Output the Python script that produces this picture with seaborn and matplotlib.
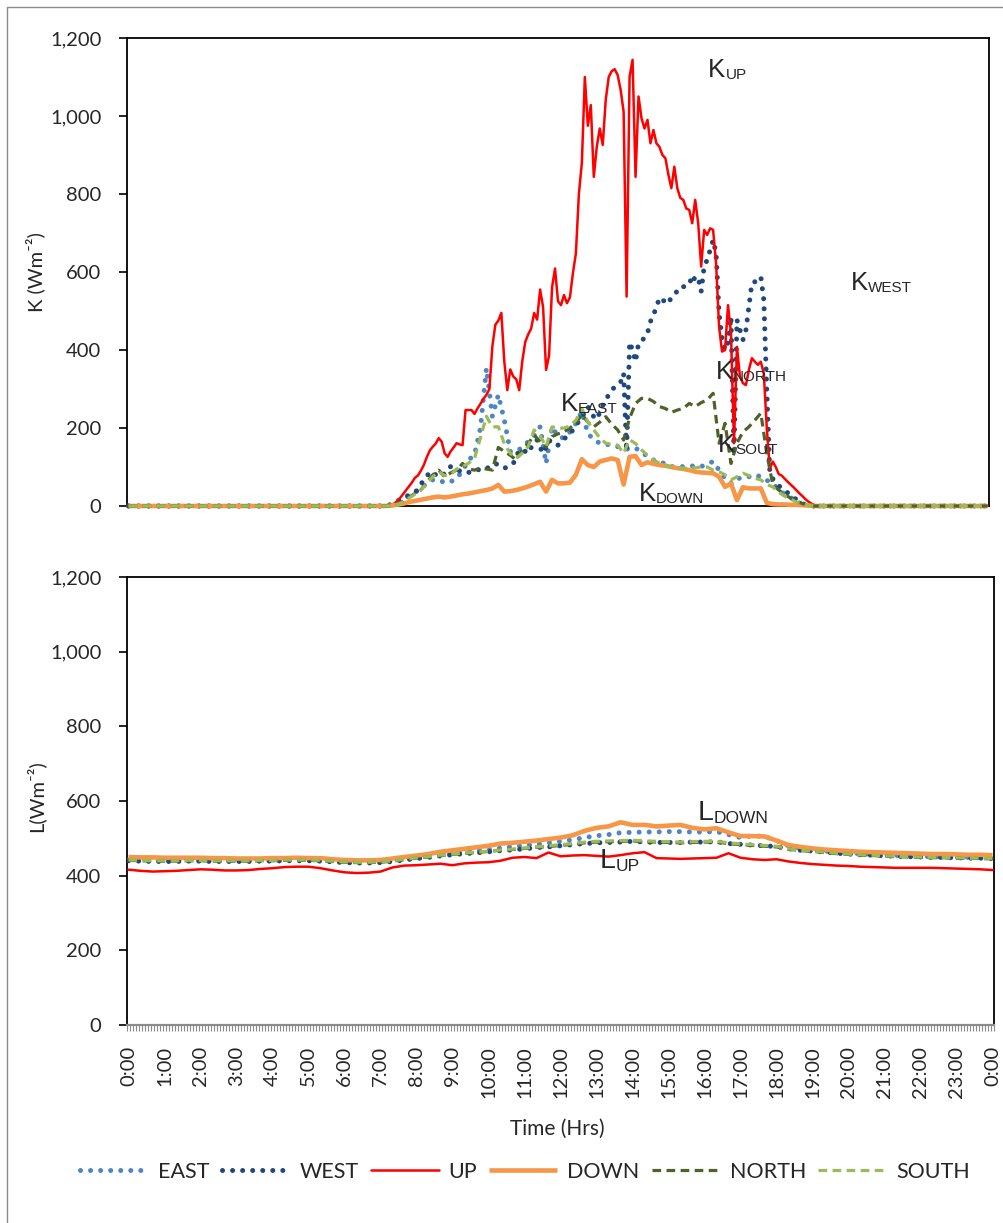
import numpy as np
import pandas as pd
import matplotlib
matplotlib.use("Agg")
import matplotlib.pyplot as plt
from matplotlib.lines import Line2D
from matplotlib.ticker import FuncFormatter, MultipleLocator, FixedLocator
import seaborn as sns

# ---------------------------------------------------------------------------
# Time grids (hours after midnight)
# ---------------------------------------------------------------------------
HOURS_5MIN = np.arange(289) / 12.0
HOURS_10MIN = np.arange(145) / 6.0
HOURS_20MIN = np.arange(73) / 3.0

HOUR_TICKS = list(range(25))
HOUR_LABELS = ["0:00", "1:00", "2:00", "3:00", "4:00", "5:00", "6:00", "7:00",
               "8:00", "9:00", "10:00", "11:00", "12:00", "13:00", "14:00",
               "15:00", "16:00", "17:00", "18:00", "19:00", "20:00", "21:00",
               "22:00", "23:00", "0:00"]

# ---------------------------------------------------------------------------
# Shortwave K (W/m2), daylight part 7:00-19:30; night values are zero
# ---------------------------------------------------------------------------
# 5-minute readings
K_UP_DAY = [
    0, 0, 0, 0, 2, 6, 12, 20, 30, 40, 50, 60,                               # 7h
    72, 78, 90, 105, 125, 142, 152, 160, 174, 165, 135, 126,                # 8h
    140, 150, 161, 158, 156, 246, 246, 246, 236, 250, 262, 275,             # 9h
    285, 300, 410, 465, 475, 495, 370, 297, 350, 332, 325, 297,             # 10h
    370, 420, 440, 455, 495, 478, 555, 510, 349, 385, 560, 609,             # 11h
    525, 515, 541, 520, 535, 597, 648, 800, 880, 1100, 975, 1028,           # 12h
    844, 921, 968, 926, 1041, 1100, 1115, 1120, 1105, 1067, 1011, 537,      # 13h
    1101, 1144, 844, 1050, 994, 968, 990, 930, 964, 930, 921, 900,          # 14h
    892, 850, 815, 870, 815, 790, 785, 763, 759, 725, 785, 725,             # 15h
    614, 708, 695, 712, 708, 622, 460, 396, 400, 515, 443, 161,             # 16h
    408, 332, 315, 310, 349, 379, 370, 362, 370, 340, 200, 95,              # 17h
    114, 100, 82, 78, 70, 62, 55, 48, 40, 32, 25, 17,                       # 18h
    11, 6, 2, 0, 0, 0, 0,                                                   # 19h
]
K_WEST_DAY = [
    0, 0, 0, 2, 4, 8, 12, 16, 20, 24, 28, 32,
    36, 41, 55, 67, 75, 88, 86, 80, 78, 75, 85, 95,
    101, 98, 95, 90, 88, 84, 86, 88, 92, 92, 95, 97,
    95, 101, 105, 109, 105, 100, 97, 100, 105, 109, 125, 144,
    144, 140, 135, 150, 165, 169, 150, 135, 150, 169, 160, 156,
    156, 165, 172, 178, 185, 195, 205, 218, 229, 240, 255, 240,
    229, 222, 240, 258, 272, 285, 297, 305, 312, 318, 340, 140,
    420, 400, 370, 417, 425, 430, 443, 473, 490, 510, 533, 525,
    528, 520, 535, 545, 550, 562, 562, 565, 567, 592, 579, 585,
    550, 614, 631, 656, 682, 648, 494, 430, 400, 420, 485, 130,
    477, 451, 426, 451, 511, 571, 575, 580, 588, 528, 297, 92,
    70, 60, 52, 46, 40, 34, 28, 22, 16, 11, 6, 3,
    0, 0, 0, 0, 0, 0, 0,
]
# 10-minute readings
K_EAST_DAY = [
    0, 0, 2, 8, 15, 25,
    35, 45, 58, 67, 67, 60,
    62, 71, 90, 118, 131, 200,
    353, 230, 285, 220, 140, 140,
    150, 165, 180, 203, 109, 203,
    178, 174, 190, 212, 242, 186,
    170, 161, 158, 156, 152, 150,
    144, 148, 140, 126, 118, 112,
    109, 101, 101, 101, 102, 103,
    101, 108, 114, 92, 71, 58,
    71, 71, 75, 80, 75, 66,
    58, 41, 30, 22, 11, 5,
    2, 0, 0, 0,
]
K_NORTH_DAY = [
    0, 0, 0, 5, 12, 22,
    32, 41, 60, 80, 92, 75,
    85, 92, 109, 95, 92, 97,
    95, 92, 150, 140, 130, 118,
    144, 160, 182, 165, 152, 178,
    185, 190, 200, 212, 235, 215,
    203, 215, 229, 210, 195, 169,
    225, 263, 276, 276, 268, 255,
    250, 240, 246, 250, 263, 255,
    265, 272, 289, 161, 212, 109,
    161, 190, 203, 220, 238, 135,
    55, 41, 30, 20, 12, 6,
    2, 0, 0, 0,
]
K_SOUTH_DAY = [
    0, 0, 0, 4, 10, 20,
    30, 40, 58, 75, 88, 78,
    80, 95, 101, 110, 122, 175,
    230, 203, 203, 160, 135, 122,
    135, 152, 195, 180, 152, 203,
    199, 200, 205, 220, 250, 215,
    195, 175, 161, 158, 156, 135,
    170, 160, 144, 130, 118, 110,
    105, 100, 97, 97, 97, 98,
    100, 100, 92, 88, 80, 67,
    75, 84, 78, 71, 67, 55,
    49, 35, 25, 18, 10, 5,
    2, 0, 0, 0,
]
K_DOWN_DAY = [
    0, 0, 1, 3, 6, 10,
    13, 16, 19, 22, 24, 22,
    24, 27, 30, 32, 35, 38,
    41, 45, 54, 37, 38, 41,
    45, 50, 56, 62, 37, 67,
    58, 58, 60, 80, 120, 105,
    100, 114, 118, 122, 118, 55,
    126, 128, 105, 112, 108, 105,
    103, 100, 97, 95, 92, 88,
    86, 85, 84, 75, 49, 58,
    15, 48, 45, 45, 45, 8,
    5, 4, 4, 3, 3, 2,
    1, 0, 0, 0,
]

# ---------------------------------------------------------------------------
# Longwave L (W/m2), 20-minute readings over the whole day
# ---------------------------------------------------------------------------
L_DOWN = [450, 449, 449, 448, 448, 448, 448, 447, 447, 446, 446, 446,
          447, 447, 448, 447, 447, 444, 442, 441, 441, 442, 446, 450,
          454, 458, 464, 468, 472, 476, 480, 486, 488, 491, 494, 498,
          502, 508, 520, 528, 532, 543, 536, 536, 532, 534, 536, 528,
          524, 527, 516, 506, 506, 505, 494, 482, 477, 473, 470, 468,
          466, 464, 463, 462, 461, 460, 459, 458, 458, 457, 456, 456, 455]
L_UP = [416, 413, 411, 412, 413, 415, 417, 416, 414, 414, 415, 418,
        420, 423, 424, 424, 420, 414, 409, 407, 408, 411, 422, 427,
        428, 430, 432, 428, 433, 435, 436, 440, 448, 450, 447, 462,
        452, 454, 455, 453, 451, 455, 460, 463, 447, 446, 445, 446,
        447, 448, 460, 448, 444, 442, 444, 438, 434, 431, 429, 427,
        426, 424, 423, 422, 421, 421, 421, 421, 420, 419, 418, 417, 415]
L_EAST = [442, 441, 440, 440, 440, 441, 441, 440, 440, 440, 440, 441,
          441, 442, 442, 442, 441, 439, 437, 436, 436, 437, 440, 444,
          448, 452, 457, 460, 463, 466, 470, 474, 478, 481, 484, 488,
          492, 496, 502, 507, 510, 515, 516, 517, 517, 518, 518, 517,
          517, 518, 510, 502, 507, 505, 494, 480, 474, 470, 466, 463,
          461, 459, 457, 455, 454, 453, 452, 451, 450, 449, 449, 448, 448]
L_WEST = [440, 439, 438, 438, 438, 439, 439, 438, 438, 438, 438, 439,
          439, 440, 440, 440, 439, 437, 435, 434, 434, 435, 438, 442,
          446, 449, 453, 456, 459, 461, 464, 467, 469, 472, 475, 477,
          480, 483, 486, 488, 489, 490, 492, 490, 489, 489, 489, 490,
          490, 491, 486, 484, 482, 480, 478, 472, 468, 466, 463, 460,
          458, 456, 455, 453, 452, 451, 450, 449, 449, 448, 447, 447, 446]
L_NORTH = [441, 440, 439, 439, 439, 440, 440, 439, 439, 439, 439, 440,
           440, 441, 441, 441, 440, 438, 436, 435, 435, 436, 439, 443,
           447, 450, 454, 457, 460, 462, 465, 468, 470, 473, 476, 478,
           481, 484, 488, 490, 491, 492, 493, 491, 490, 489, 488, 489,
           490, 490, 486, 483, 481, 479, 477, 471, 467, 465, 462, 459,
           457, 455, 454, 452, 451, 450, 449, 448, 448, 447, 446, 446, 445]
L_SOUTH = [442, 441, 440, 440, 440, 441, 441, 440, 440, 440, 440, 441,
           441, 442, 442, 442, 441, 439, 437, 436, 436, 437, 440, 444,
           448, 451, 455, 458, 461, 463, 466, 469, 471, 474, 477, 480,
           483, 486, 490, 492, 493, 494, 495, 493, 492, 491, 490, 491,
           492, 492, 488, 485, 483, 481, 479, 472, 468, 466, 463, 460,
           458, 456, 455, 453, 452, 451, 450, 449, 449, 448, 447, 447, 446]

SERIES_ORDER = ["EAST", "WEST", "UP", "DOWN", "NORTH", "SOUTH"]


def full_day(day_values, steps_per_hour, n_total):
    """Pad daylight readings with the zero night-time readings."""
    before = [0.0] * (7 * steps_per_hour)
    after = [0.0] * (n_total - len(before) - len(day_values))
    return np.array(before + list(day_values) + after, dtype=float)


k5 = pd.DataFrame({
    "hour": HOURS_5MIN,
    "UP": full_day(K_UP_DAY, 12, 289),
    "WEST": full_day(K_WEST_DAY, 12, 289),
})
k10 = pd.DataFrame({
    "hour": HOURS_10MIN,
    "EAST": full_day(K_EAST_DAY, 6, 145),
    "NORTH": full_day(K_NORTH_DAY, 6, 145),
    "SOUTH": full_day(K_SOUTH_DAY, 6, 145),
    "DOWN": full_day(K_DOWN_DAY, 6, 145),
})
lw_df = pd.DataFrame({
    "hour": HOURS_20MIN,
    "EAST": L_EAST, "WEST": L_WEST, "UP": L_UP,
    "DOWN": L_DOWN, "NORTH": L_NORTH, "SOUTH": L_SOUTH,
})
k_source = {"UP": k5, "WEST": k5, "EAST": k10, "NORTH": k10,
            "SOUTH": k10, "DOWN": k10}

# ---------------------------------------------------------------------------
# Styling
# ---------------------------------------------------------------------------
sns.set_theme(style="white")
plt.rcParams["font.family"] = ["Lato", "DejaVu Sans"]
plt.rcParams["axes.unicode_minus"] = False
TAG_FONT = ["Liberation Sans", "DejaVu Sans"]

DOTS = (0, (0.01, 2.0))
DASHES = (0, (2.7, 1.7))
STYLES = {
    "EAST": dict(color="#4E85C5", linewidth=3.6, linestyle=DOTS,
                 dash_capstyle="round"),
    "WEST": dict(color="#1F497D", linewidth=3.6, linestyle=DOTS,
                 dash_capstyle="round"),
    "UP": dict(color="#FF0000", linewidth=1.8, linestyle="-"),
    "DOWN": dict(color="#F79646", linewidth=3.3, linestyle="-",
                 solid_capstyle="butt"),
    "NORTH": dict(color="#4F6228", linewidth=2.3, linestyle=DASHES,
                  dash_capstyle="butt"),
    "SOUTH": dict(color="#9BBB59", linewidth=2.3, linestyle=DASHES,
                  dash_capstyle="butt"),
}

W, H = 1004, 1223
fig = plt.figure(figsize=(W / 100, H / 100), dpi=100)
fig.patch.set_facecolor("white")

ax_k = fig.add_axes([127 / W, 1 - 506 / H, (989 - 127) / W, (506 - 38) / H])
ax_l = fig.add_axes([127 / W, 1 - 1025 / H, (994 - 127) / W, (1025 - 577) / H])

for z, name in enumerate(SERIES_ORDER):
    src = k_source[name]
    sns.lineplot(data=src, x="hour", y=name, ax=ax_k, estimator=None,
                 errorbar=None, sort=False, legend=False, zorder=3 + z,
                 **STYLES[name])
    ax_k.lines[-1].set_clip_on(False)
    sns.lineplot(data=lw_df, x="hour", y=name, ax=ax_l, estimator=None,
                 errorbar=None, sort=False, legend=False, zorder=3 + z,
                 **STYLES[name])

thousands = FuncFormatter(lambda v, p: f"{v:,.0f}")
for ax in (ax_k, ax_l):
    ax.set_facecolor("white")
    ax.set_xlim(-1 / 24, 24 + 1 / 24)
    ax.set_ylim(0, 1200)
    ax.yaxis.set_major_locator(MultipleLocator(200))
    ax.yaxis.set_major_formatter(thousands)
    ax.tick_params(axis="y", direction="out", length=5.5, width=1.2,
                   color="black", pad=13, labelsize=14.5, left=True)
    for side in ("left", "top", "right", "bottom"):
        ax.spines[side].set_visible(True)
        ax.spines[side].set_color("black")
        ax.spines[side].set_linewidth(1.3)
    ax.grid(False)
    ax.set_xlabel("")

# Top panel: no time labels
ax_k.set_xticks([])
ax_k.set_ylabel("K (Wm⁻²)", fontsize=14.5, va="center")
ax_k.yaxis.set_label_coords(-0.107, 0.5)

# Bottom panel: hourly labels with a tick at every 5-minute slot
ax_l.spines["bottom"].set_color("#8C8C8C")
ax_l.spines["bottom"].set_linewidth(1.6)
ax_l.set_xticks(HOUR_TICKS)
ax_l.set_xticklabels(HOUR_LABELS, rotation=90)
ax_l.xaxis.set_minor_locator(FixedLocator(np.arange(290) / 12.0 - 1 / 24))
ax_l.tick_params(axis="x", which="major", length=0, pad=15, labelsize=14.5,
                 bottom=True)
ax_l.tick_params(axis="x", which="minor", length=4.5, width=0.8,
                 color="#8C8C8C", direction="out", bottom=True)
ax_l.set_ylabel("L(Wm⁻²)", fontsize=14.5, va="center")
ax_l.yaxis.set_label_coords(-0.106, 0.51)
ax_l.set_xlabel("Time (Hrs)", fontsize=15, va="center")
ax_l.xaxis.set_label_coords(0.496, -0.232)


def series_tag(ax, x, y, main, sub, size_main, size_sub):
    t = ax.text(x, y, main, fontsize=size_main, family=TAG_FONT,
                ha="left", va="baseline", zorder=20)
    ax.annotate(sub, xy=(1, 0), xycoords=t, fontsize=size_sub,
                family=TAG_FONT, ha="left", va="bottom", zorder=20)


series_tag(ax_k, 16.20, 1100, "K", "UP", 18.5, 11)
series_tag(ax_k, 20.19, 554, "K", "WEST", 18.5, 11)
series_tag(ax_k, 16.41, 326, "K", "NORTH", 18.5, 11)
series_tag(ax_k, 12.08, 244, "K", "EAST", 18.5, 11)
series_tag(ax_k, 16.48, 138, "K", "SOUT", 18.5, 11)
series_tag(ax_k, 14.25, 13, "K", "DOWN", 18.5, 11)
series_tag(ax_l, 15.82, 549, "L", "DOWN", 20.5, 12.5)
series_tag(ax_l, 13.09, 421, "L", "UP", 20.5, 12.5)

# Legend below the panels
handles = [Line2D([], [], **STYLES[n]) for n in SERIES_ORDER]
fig.legend(handles, SERIES_ORDER, loc="center", ncol=6,
           bbox_to_anchor=(525 / W, 1 - 1172 / H), frameon=False,
           fontsize=15.5, handlelength=3.15, handletextpad=0.47,
           columnspacing=0.56)

# Outer frame of the chart area
fig.add_artist(Line2D([7 / W, 7 / W, 1.0], [0.0, 1 - 7 / H, 1 - 7 / H],
                      transform=fig.transFigure, color="#8A8A8A",
                      linewidth=1.0))

fig.savefig("out.png", dpi=100, facecolor="white")
